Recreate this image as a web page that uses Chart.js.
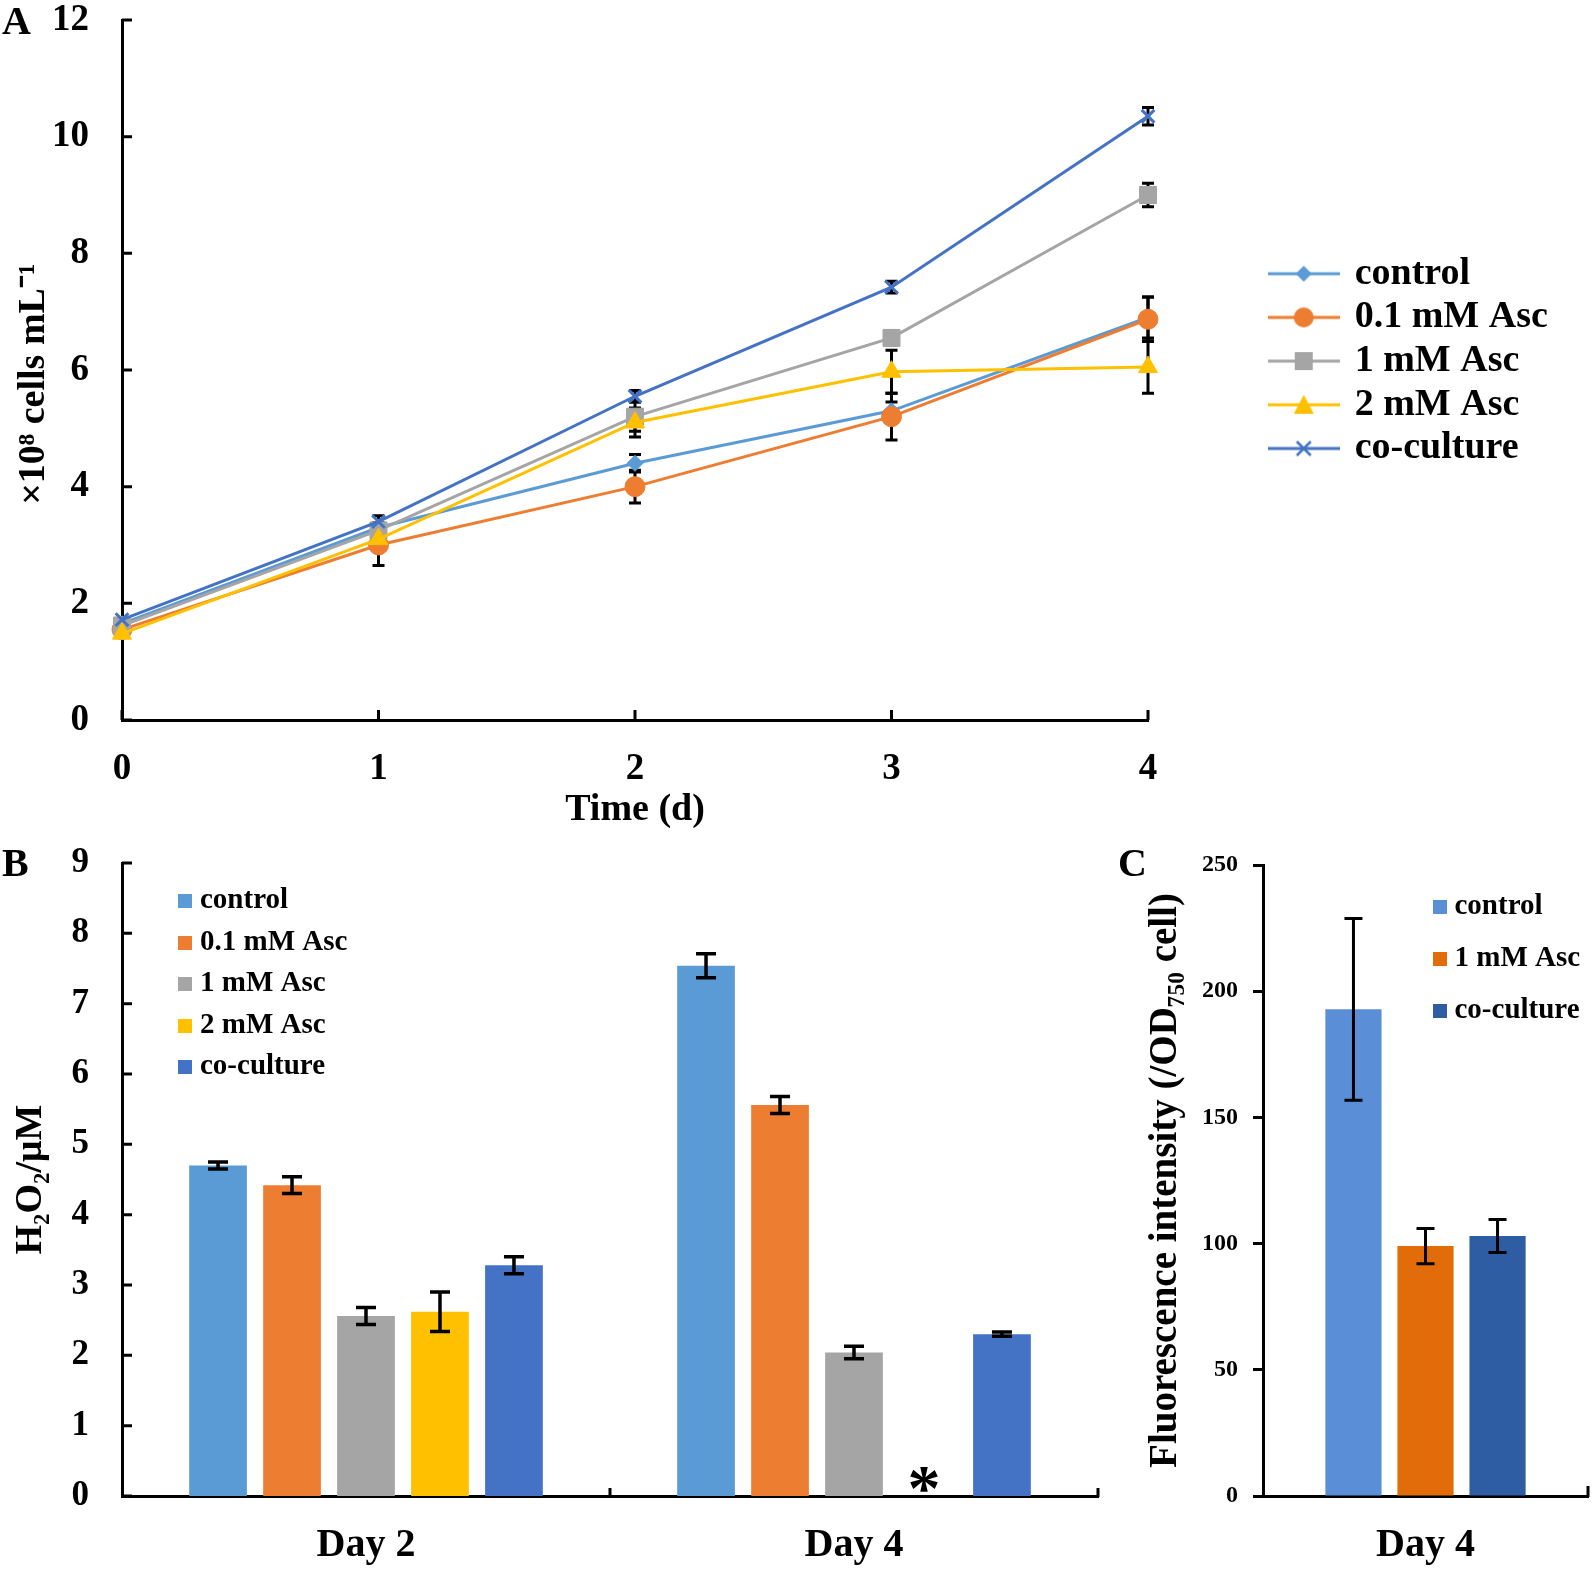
<!DOCTYPE html>
<html>
<head>
<meta charset="utf-8">
<script src="https://cdn.jsdelivr.net/npm/chart.js"></script>
<style>
body { margin: 0; background: #fff; }
#wrap { position: relative; width: 1594px; height: 1570px; background: #fff; }
canvas { position: absolute; }
.panel { position: absolute; font: bold 40px 'Liberation Serif', 'Times New Roman', serif; color: #000; }
</style>
</head>
<body>
<div id="wrap">
<canvas id="chartA" width="1594" height="840" style="left:0;top:0"></canvas>
<canvas id="chartB" width="1110" height="730" style="left:0;top:840px"></canvas>
<canvas id="chartC" width="484" height="730" style="left:1110px;top:840px"></canvas>
<div class="panel" style="left:2px;top:-3px">A</div>
<div class="panel" style="left:2px;top:839px">B</div>
<div class="panel" style="left:1118px;top:839px">C</div>
</div>
<script>
// ---- data ----
var days = ['0', '1', '2', '3', '4'];
var seriesNames = ['control', '0.1 mM Asc', '1 mM Asc', '2 mM Asc', 'co-culture'];

// A: cell density (x10^8 cells/mL)
var controlCells = [1.65, 3.3, 4.4, 5.3, 6.9];
var asc01Cells = [1.55, 3.0, 4.0, 5.2, 6.87];
var asc1Cells = [1.62, 3.25, 5.2, 6.55, 9.0];
var asc2Cells = [1.48, 3.1, 5.1, 5.97, 6.05];
var cocultureCells = [1.72, 3.4, 5.55, 7.42, 10.35];

var controlCellsErr = [0, 0.08, 0.15, 0.15, 0.35];
var asc01CellsErr = [0, 0.35, 0.28, 0.4, 0.38];
var asc1CellsErr = [0, 0.08, 0.25, 0.12, 0.2];
var asc2CellsErr = [0, 0.08, 0.25, 0.37, 0.45];
var cocultureCellsErr = [0, 0.1, 0.1, 0.1, 0.15];

var yTicksA = [0, 2, 4, 6, 8, 10, 12];

// B: H2O2 (uM)
var daysB = ['Day 2', 'Day 4'];
var controlH2O2 = [4.70, 7.54];
var asc01H2O2 = [4.42, 5.56];
var asc1H2O2 = [2.56, 2.04];
var asc2H2O2 = [2.62, 0];
var cocultureH2O2 = [3.28, 2.30];

var controlH2O2Err = [0.05, 0.17];
var asc01H2O2Err = [0.12, 0.12];
var asc1H2O2Err = [0.12, 0.09];
var asc2H2O2Err = [0.28, 0];
var cocultureH2O2Err = [0.12, 0.03];

// C: fluorescence intensity
var daysC = ['Day 4'];
var seriesNamesC = ['control', '1 mM Asc', 'co-culture'];
var fluorValues = [192.8, 99, 103];
var fluorErr = [36, 7, 6.5];

var colors = ['#5B9BD5', '#ED7D31', '#A5A5A5', '#FFC000', '#4472C4'];
var colorsC = ['#5A8FD8', '#E36C0A', '#2F5DA3'];

Chart.defaults.font.family = "'Liberation Serif', 'Times New Roman', serif";
Chart.defaults.font.weight = 'bold';
Chart.defaults.color = '#000';

// ---- plugins ----
function drawErrors(chart, opts) {
    var ctx = chart.ctx;
    var yScale = chart.scales.y;
    ctx.save();
    ctx.strokeStyle = '#000';
    ctx.lineWidth = opts.width;
    chart.data.datasets.forEach(function (ds, di) {
        if (!ds.errors) return;
        var meta = chart.getDatasetMeta(di);
        meta.data.forEach(function (el, i) {
            var v = ds.data[i];
            var e = ds.errors[i];
            if (!e) return;
            var top = yScale.getPixelForValue(v + e);
            var bot = yScale.getPixelForValue(v - e);
            ctx.beginPath();
            ctx.moveTo(el.x, top);
            ctx.lineTo(el.x, bot);
            ctx.moveTo(el.x - opts.cap, top);
            ctx.lineTo(el.x + opts.cap, top);
            ctx.moveTo(el.x - opts.cap, bot);
            ctx.lineTo(el.x + opts.cap, bot);
            ctx.stroke();
        });
    });
    ctx.restore();
}

var errorBars = {
    id: 'errorBars',
    beforeDatasetsDraw: function (chart, args, opts) {
        if (opts.under) drawErrors(chart, opts);
    },
    afterDatasetsDraw: function (chart, args, opts) {
        if (!opts.under) drawErrors(chart, opts);
    }
};

var innerTicks = {
    id: 'innerTicks',
    afterDraw: function (chart, args, opts) {
        var ctx = chart.ctx;
        var area = chart.chartArea;
        var xs = chart.scales.x;
        var ys = chart.scales.y;
        ctx.save();
        ctx.strokeStyle = '#000';
        ctx.lineWidth = 3;
        ctx.beginPath();
        if (opts.y) {
            ys.ticks.forEach(function (t) {
                var py = ys.getPixelForValue(t.value);
                ctx.moveTo(area.left, py);
                ctx.lineTo(area.left + opts.y, py);
            });
        }
        if (opts.x == 'ticks') {
            xs.ticks.forEach(function (t, i) {
                var px = xs.getPixelForTick(i);
                ctx.moveTo(px, area.bottom);
                ctx.lineTo(px, area.bottom - opts.len);
            });
        }
        if (opts.x == 'between') {
            for (var i = 1; i < xs.ticks.length; i++) {
                var px = (xs.getPixelForTick(i - 1) + xs.getPixelForTick(i)) / 2;
                ctx.moveTo(px, area.bottom);
                ctx.lineTo(px, area.bottom - opts.len);
            }
        }
        if (opts.end) {
            ctx.moveTo(area.right, area.bottom + 1);
            ctx.lineTo(area.right, area.bottom - opts.len);
        }
        ctx.stroke();
        ctx.restore();
    }
};

var placeLegend = {
    id: 'placeLegend',
    afterLayout: function (chart, args, opts) {
        var lg = chart.legend;
        lg.left = opts.left;
        lg.top = opts.top;
        lg.width = 420;
        lg.height = 400;
        lg.right = opts.left + 420;
        lg.bottom = opts.top + 400;
    }
};

var starMark = {
    id: 'starMark',
    afterDatasetsDraw: function (chart, args, opts) {
        var el = chart.getDatasetMeta(opts.dataset).data[opts.index];
        var ctx = chart.ctx;
        ctx.save();
        ctx.fillStyle = '#000';
        ctx.font = 'bold 66px "Liberation Serif", serif';
        ctx.textAlign = 'center';
        ctx.textBaseline = 'alphabetic';
        ctx.fillText('*', el.x - 4, chart.chartArea.bottom + 14);
        ctx.restore();
    }
};

// no extra room for tick label overhang, the layout is fixed by hand
function noOverhang(s) {
    s.paddingTop = 0;
    s.paddingBottom = 0;
    s.paddingLeft = 0;
    s.paddingRight = 0;
}

// legend icons for panel A: line with marker
function makeIcon(color, shape) {
    var c = document.createElement('canvas');
    c.width = 72;
    c.height = 28;
    var g = c.getContext('2d');
    g.strokeStyle = color;
    g.fillStyle = color;
    g.lineWidth = 3;
    g.beginPath();
    g.moveTo(0, 14);
    g.lineTo(72, 14);
    g.stroke();
    g.beginPath();
    if (shape == 'diamond') {
        g.moveTo(36, 6); g.lineTo(44, 14); g.lineTo(36, 22); g.lineTo(28, 14);
        g.closePath(); g.fill();
    } else if (shape == 'circle') {
        g.arc(36, 14, 10, 0, Math.PI * 2); g.fill();
    } else if (shape == 'square') {
        g.rect(27, 5, 18, 18); g.fill();
    } else if (shape == 'triangle') {
        g.moveTo(36, 4); g.lineTo(46, 23); g.lineTo(26, 23);
        g.closePath(); g.fill();
    } else {
        g.lineWidth = 2.5;
        g.moveTo(29, 7); g.lineTo(43, 21);
        g.moveTo(43, 7); g.lineTo(29, 21);
        g.stroke();
    }
    return c;
}

function makeSquare(color) {
    var c = document.createElement('canvas');
    c.width = 14;
    c.height = 14;
    var g = c.getContext('2d');
    g.fillStyle = color;
    g.fillRect(0, 0, 14, 14);
    return c;
}

var iconShapes = ['diamond', 'circle', 'square', 'triangle', 'cross'];
var icons = iconShapes.map(function (s, i) { return makeIcon(colors[i], s); });
var squaresB = colors.map(makeSquare);
var squaresC = colorsC.map(makeSquare);

function labelsWith(iconList) {
    return function (chart) {
        var items = Chart.defaults.plugins.legend.labels.generateLabels(chart);
        items.sort(function (a, b) { return a.datasetIndex - b.datasetIndex; });
        items.forEach(function (it) { it.pointStyle = iconList[it.datasetIndex]; });
        return items;
    };
}

// ---- panel A ----
var cellsData = [controlCells, asc01Cells, asc1Cells, asc2Cells, cocultureCells];
var cellsErr = [controlCellsErr, asc01CellsErr, asc1CellsErr, asc2CellsErr, cocultureCellsErr];
var pointStyles = ['rectRot', 'circle', 'rect', 'triangle', 'crossRot'];
var pointSizes = [8, 10, 12, 11, 9];

var datasetsA = seriesNames.map(function (name, i) {
    return {
        label: name,
        data: cellsData[i],
        errors: cellsErr[i],
        borderColor: colors[i],
        backgroundColor: colors[i],
        borderWidth: 3,
        pointStyle: pointStyles[i],
        pointRadius: pointSizes[i],
        pointBorderWidth: i == 4 ? 3 : 1,
        tension: 0,
        order: seriesNames.length - 1 - i
    };
});

new Chart(document.getElementById('chartA'), {
    type: 'line',
    data: { labels: days, datasets: datasetsA },
    options: {
        responsive: false,
        animation: false,
        layout: { padding: { left: 0, top: 20, right: 446, bottom: 0 } },
        scales: {
            x: {
                offset: false,
                grid: { display: false, drawTicks: false },
                border: { color: '#000', width: 3 },
                ticks: { font: { size: 37 }, padding: 27 },
                title: { display: true, text: 'Time (d)', font: { size: 38 }, padding: { top: 0, bottom: 7 } },
                afterFit: function (s) { s.height = 120; noOverhang(s); }
            },
            y: {
                min: 0,
                max: 12,
                afterBuildTicks: function (s) { s.ticks = yTicksA.map(function (v) { return { value: v }; }); },
                grid: { display: false, drawTicks: false },
                border: { color: '#000', width: 3 },
                ticks: { font: { size: 37 }, padding: 33 },
                title: { display: true, text: '\u00d710\u2078 cells mL\u207b\u00b9\u00a0\u00a0\u00a0', font: { size: 38 }, padding: { top: 11, bottom: 0 } },
                afterFit: function (s) { s.width = 122; noOverhang(s); }
            }
        },
        plugins: {
            legend: {
                position: 'chartArea',
                align: 'start',
                labels: {
                    font: { size: 38 },
                    color: '#000',
                    usePointStyle: true,
                    pointStyleWidth: 64,
                    padding: 5.7,
                    generateLabels: labelsWith(icons)
                }
            },
            tooltip: { enabled: false },
            placeLegend: { left: 1266, top: 249 },
            errorBars: { cap: 6, width: 3, under: true },
            innerTicks: { y: 10, x: 'ticks', len: 10 }
        }
    },
    plugins: [errorBars, innerTicks, placeLegend]
});

// ---- panel B ----
var h2o2Data = [controlH2O2, asc01H2O2, asc1H2O2, asc2H2O2, cocultureH2O2];
var h2o2Err = [controlH2O2Err, asc01H2O2Err, asc1H2O2Err, asc2H2O2Err, cocultureH2O2Err];

var datasetsB = seriesNames.map(function (name, i) {
    return {
        label: name,
        data: h2o2Data[i],
        errors: h2o2Err[i],
        backgroundColor: colors[i],
        borderWidth: 0,
        categoryPercentage: 0.758,
        barPercentage: 0.78
    };
});

new Chart(document.getElementById('chartB'), {
    type: 'bar',
    data: { labels: daysB, datasets: datasetsB },
    options: {
        responsive: false,
        animation: false,
        layout: { padding: { left: 0, top: 23, right: 12, bottom: 0 } },
        scales: {
            x: {
                grid: { display: false, drawTicks: false },
                border: { color: '#000', width: 3 },
                ticks: { font: { size: 40 }, padding: 26 },
                afterFit: function (s) { s.height = 74; noOverhang(s); }
            },
            y: {
                min: 0,
                max: 9,
                grid: { display: false, drawTicks: false },
                border: { color: '#000', width: 3 },
                ticks: { stepSize: 1, font: { size: 35 }, padding: 33 },
                title: { display: true, text: 'H\u2082O\u2082/\u03bcM', font: { size: 38 }, padding: { top: 8, bottom: 0 } },
                afterFit: function (s) { s.width = 122; noOverhang(s); }
            }
        },
        plugins: {
            legend: {
                position: 'chartArea',
                align: 'start',
                labels: {
                    font: { size: 29 },
                    color: '#000',
                    usePointStyle: true,
                    pointStyleWidth: 1,
                    padding: 12.5,
                    generateLabels: labelsWith(squaresB)
                }
            },
            tooltip: { enabled: false },
            placeLegend: { left: 172, top: 34 },
            errorBars: { cap: 10, width: 3.5 },
            innerTicks: { y: 10, x: 'between', len: 8, end: true },
            starMark: { dataset: 3, index: 1 }
        }
    },
    plugins: [errorBars, innerTicks, placeLegend, starMark]
});

// ---- panel C ----
var datasetsC = seriesNamesC.map(function (name, i) {
    return {
        label: name,
        data: [fluorValues[i]],
        errors: [fluorErr[i]],
        backgroundColor: colorsC[i],
        borderWidth: 0,
        categoryPercentage: 0.665,
        barPercentage: 0.78
    };
});

new Chart(document.getElementById('chartC'), {
    type: 'bar',
    data: { labels: daysC, datasets: datasetsC },
    options: {
        responsive: false,
        animation: false,
        layout: { padding: { left: 0, top: 25, right: 6, bottom: 0 } },
        scales: {
            x: {
                grid: { display: false, drawTicks: false },
                border: { color: '#000', width: 3 },
                ticks: { font: { size: 40 }, padding: 26 },
                afterFit: function (s) { s.height = 74; noOverhang(s); }
            },
            y: {
                min: 0,
                max: 250,
                grid: { display: true, drawOnChartArea: false, drawTicks: true, tickLength: 10, tickWidth: 3, tickColor: '#000' },
                border: { color: '#000', width: 3 },
                ticks: { stepSize: 50, font: { size: 24 }, padding: 15 },
                title: { display: true, text: 'Fluorescence intensity (/OD\u2087\u2085\u2080 cell)', font: { size: 39 }, padding: { top: 33, bottom: 0 } },
                afterFit: function (s) { s.width = 153; noOverhang(s); }
            }
        },
        plugins: {
            legend: {
                position: 'chartArea',
                align: 'start',
                labels: {
                    font: { size: 29 },
                    color: '#000',
                    usePointStyle: true,
                    pointStyleWidth: 1,
                    padding: 23,
                    generateLabels: labelsWith(squaresC)
                }
            },
            tooltip: { enabled: false },
            placeLegend: { left: 306, top: 29 },
            errorBars: { cap: 9, width: 3 },
            innerTicks: { y: 0, x: 'none', len: 10, end: true }
        }
    },
    plugins: [errorBars, innerTicks, placeLegend]
});
</script>
</body>
</html>
